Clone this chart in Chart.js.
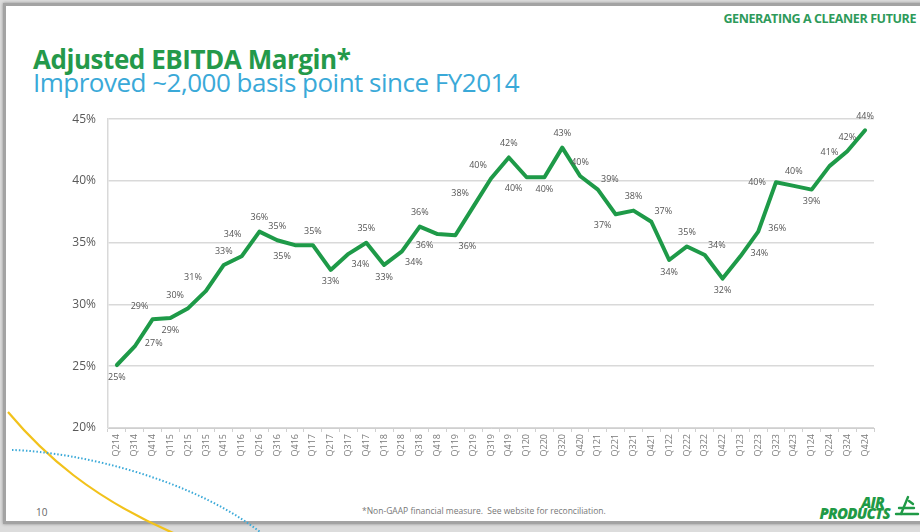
<!DOCTYPE html>
<html>
<head>
<meta charset="utf-8">
<script src="https://cdn.jsdelivr.net/npm/chart.js@4.4.1/dist/chart.umd.min.js"></script>
<style>
  html, body { margin: 0; padding: 0; background: #e9e9e9; }
  #slide { position: relative; width: 920px; height: 532px; overflow: hidden; background: #dcdcdc; }
  #frame { position: absolute; left: 3px; top: 3px; width: 930px; height: 521px; background: #fff;
           border: 3px solid #a3a3a3; box-sizing: border-box; box-shadow: 0 0 3px rgba(0,0,0,0.35); }
  .txt { position: absolute; white-space: nowrap; font-family: "Open Sans", "Noto Sans", sans-serif; }
  #tag { right: 4px; top: 10px; font-size: 12.5px; font-weight: 700; color: #2e9a5a; letter-spacing: -0.4px; }
  #title { left: 33px; top: 46px; font-size: 26px; line-height: 26px; font-weight: 700; color: #24994a; letter-spacing: -0.45px; }
  #subtitle { left: 33px; top: 69px; font-size: 26px; line-height: 26px; color: #3aa9d8; letter-spacing: -0.5px; }
  #page { left: 36px; top: 505px; font-size: 10px; color: #666; }
  #note { left: 362px; top: 505px; font-size: 8.5px; color: #777; }
  .logo { font-size: 15px; font-weight: 800; font-style: italic; color: #1f9a46; letter-spacing: -0.8px; line-height: 12px; }
  #logoAir { right: 36px; top: 496px; }
  #logoProd { right: 30px; top: 507px; }
  #chartBox { position: absolute; left: 0; top: 100px; width: 900px; height: 390px; }
  svg { position: absolute; left: 0; top: 0; }
</style>
</head>
<body>
<div id="slide">
  <div id="frame"></div>
  <svg width="920" height="532">
    <path d="M 8 412 C 40 450, 90 500, 190 540" stroke="#f2c21b" stroke-width="2.2" fill="none"/>
    <path d="M 12 450 C 80 452, 200 480, 270 540" stroke="#3aa9d8" stroke-width="2" stroke-dasharray="1.5 2" fill="none"/>
    <!-- logo mark -->
    <g stroke="#1f9a46" stroke-width="2.4" fill="none" stroke-linecap="round">
      <path d="M 901 514 L 908 497"/>
      <path d="M 899 508 L 914 508"/>
      <path d="M 896 514 L 918 514"/>
      <path d="M 909 501 L 913 504"/>
    </g>
  </svg>
  <div class="txt" id="tag">GENERATING A CLEANER FUTURE</div>
  <div class="txt" id="title">Adjusted EBITDA Margin*</div>
  <div class="txt" id="subtitle">Improved ~2,000 basis point since FY2014</div>
  <div class="txt" id="page">10</div>
  <div class="txt" id="note">*Non-GAAP financial measure.&nbsp; See website for reconciliation.</div>
  <div class="txt logo" id="logoAir">AIR</div>
  <div class="txt logo" id="logoProd">PRODUCTS</div>
  <div id="chartBox"><canvas id="c"></canvas></div>
</div>
<script>
// Quarterly adjusted EBITDA margin, %
const quarters = ["Q214","Q314","Q414","Q115","Q215","Q315","Q415","Q116","Q216","Q316","Q416",
  "Q117","Q217","Q317","Q417","Q118","Q218","Q318","Q418","Q119","Q219","Q319","Q419",
  "Q120","Q220","Q320","Q420","Q121","Q221","Q321","Q421","Q122","Q222","Q322","Q422",
  "Q123","Q223","Q323","Q423","Q124","Q224","Q324","Q424"];

const margin = [25.1, 26.6, 28.8, 28.9, 29.7, 31.1, 33.2, 33.9, 35.9, 35.2, 34.8,
  34.8, 32.8, 34.1, 35.0, 33.2, 34.3, 36.3, 35.7, 35.6, 37.9, 40.2, 41.9,
  40.3, 40.3, 42.7, 40.4, 39.3, 37.3, 37.6, 36.7, 33.6, 34.7, 34.0, 32.1,
  33.9, 35.9, 39.9, 39.6, 39.3, 41.2, 42.4, 44.1];

const yTicks = [20, 25, 30, 35, 40, 45];

// where each value label sits around its point
const labelSide = ["b","r","al","b","al","al","a","al2","a","a","bl",
  "a","b","br","a","b","br","a","bl","br","al","al","a",
  "bl","b","a","a","ar","bl","a","ar","b","a","ar","b",
  "r","r","l","a","b","a","a","a"];

const sideOffset = {
  a: [0, -14], b: [0, 12], al: [-13, -13], al2: [-9, -22], ar: [12, -10],
  bl: [-13, 11], br: [12, 11], l: [-19, 0], r: [19, -3]
};

const pointLabels = {
  id: 'pointLabels',
  afterDatasetsDraw(chart) {
    const ctx = chart.ctx;
    const meta = chart.getDatasetMeta(0);
    ctx.save();
    ctx.font = '9px "Open Sans", sans-serif';
    ctx.fillStyle = '#555';
    ctx.textAlign = 'center';
    ctx.textBaseline = 'middle';
    meta.data.forEach((pt, i) => {
      const off = sideOffset[labelSide[i]];
      ctx.fillText(Math.round(margin[i]) + '%', pt.x + off[0], pt.y + off[1]);
    });
    ctx.restore();
  }
};

new Chart(document.getElementById('c'), {
  type: 'line',
  data: {
    labels: quarters,
    datasets: [{
      data: margin,
      borderColor: '#1e9a48',
      borderWidth: 4,
      pointRadius: 0,
      tension: 0,
      borderJoinStyle: 'round',
      borderCapStyle: 'round'
    }]
  },
  options: {
    responsive: true,
    maintainAspectRatio: false,
    animation: false,
    layout: { padding: { top: 19, right: 26, left: 0, bottom: 0 } },
    plugins: { legend: { display: false }, tooltip: { enabled: false } },
    scales: {
      x: {
        offset: true,
        afterFit(scale) { scale.height = 62; },
        grid: { display: true, drawOnChartArea: false, drawTicks: true, tickLength: 4, offset: true, color: '#d0d0d0' },
        border: { color: '#cfcfcf', width: 1 },
        ticks: {
          autoSkip: false, maxRotation: 90, minRotation: 90, padding: 2,
          color: '#7a7a7a', font: { family: '"Open Sans", sans-serif', size: 9 }
        }
      },
      y: {
        min: 20, max: 45,
        afterFit(scale) { scale.width = 108; },
        afterBuildTicks(scale) { scale.ticks = yTicks.map(v => ({ value: v })); },
        grid: { color: '#d9d9d9', lineWidth: 1.5, drawTicks: false },
        border: { display: true, color: '#d9d9d9', width: 1.5 },
        ticks: {
          padding: 12, color: '#595959',
          font: { family: '"Open Sans", sans-serif', size: 12 },
          callback: v => v + '%'
        }
      }
    }
  },
  plugins: [pointLabels]
});
</script>
</body>
</html>
